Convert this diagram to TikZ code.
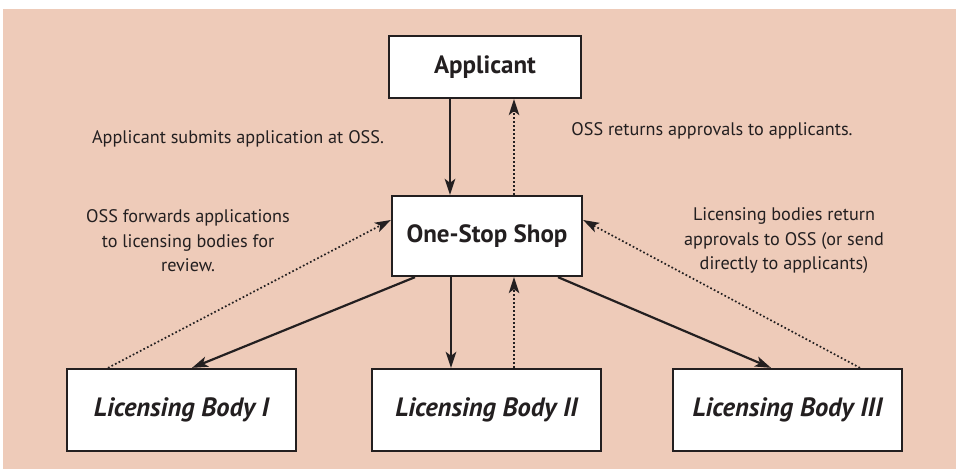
\documentclass[tikz,border=0pt]{standalone}
\usepackage{fontspec}
\setmainfont{PT Sans}
\usetikzlibrary{arrows.meta}
\definecolor{bgc}{RGB}{238,203,185}
\definecolor{ink}{RGB}{35,31,32}
\begin{document}
\begin{tikzpicture}[x=1pt,y=-1pt,
  box/.style={draw=ink,line width=2.3pt,fill=white,inner sep=0pt,text=ink},
  topbox/.style={box,minimum width=192pt,minimum height=62pt,font=\fontsize{25}{28}\selectfont\bfseries},
  midbox/.style={box,minimum width=190pt,minimum height=80pt,font=\fontsize{25}{28}\selectfont\bfseries},
  lbbox/.style={box,minimum width=229pt,minimum height=82pt,font=\fontsize{26.5}{28}\selectfont\bfseries\itshape},
  note/.style={text=ink,align=center,font=\fontsize{18.2}{24.5}\selectfont,inner sep=0pt},
  tip/.style={-{Stealth[length=16pt,width=10.5pt,inset=4pt]}},
  solidarrow/.style={tip,draw=ink,line width=2.2pt},
  dotarrow/.style={tip,draw=ink,line width=1.7pt,dash pattern=on 1.7pt off 2.3pt}
]
\useasboundingbox (0,0) rectangle (956,469);
\fill[bgc] (3,9) rectangle (956,469);

\node[topbox] (app) at (485,67) {Applicant};
\node[midbox] (oss) at (487,236) {One-Stop Shop};
\node[lbbox] (lb1) at (181.5,410) {Licensing Body I};
\node[lbbox] (lb2) at (486.5,410) {Licensing Body II};
\node[lbbox] (lb3) at (787.5,410) {Licensing Body III};

\node[note] (t1) at (238,139) {Applicant submits application at OSS.};
\node[note] (t2) at (712,131) {OSS returns approvals to applicants.};
\node[note] (t3) at (188,241) {OSS forwards applications\\to licensing bodies for\\review.};
\node[note] (t4) at (784,241) {Licensing bodies return\\approvals to OSS (or send\\directly to applicants)};

% applicant <-> oss
\draw[solidarrow] ([xshift=-35pt]app.south) -- ([xshift=-37pt]oss.north);
\draw[dotarrow] ([xshift=27pt]oss.north) -- ([xshift=29pt]app.south);

% oss <-> licensing bodies
\draw[solidarrow] ([xshift=-72pt]oss.south) -- ([xshift=10.5pt]lb1.north);
\draw[dotarrow] ([xshift=-73.5pt]lb1.north) -- ([yshift=16pt]oss.west);
\draw[solidarrow] ([xshift=-36pt]oss.south) -- ([xshift=-35.5pt]lb2.north);
\draw[dotarrow] ([xshift=27.5pt]lb2.north) -- ([xshift=27pt]oss.south);
\draw[solidarrow] ([xshift=71pt]oss.south) -- ([xshift=-16.5pt]lb3.north);
\draw[dotarrow] ([xshift=72.5pt]lb3.north) -- ([yshift=16pt]oss.east);
\end{tikzpicture}
\end{document}
